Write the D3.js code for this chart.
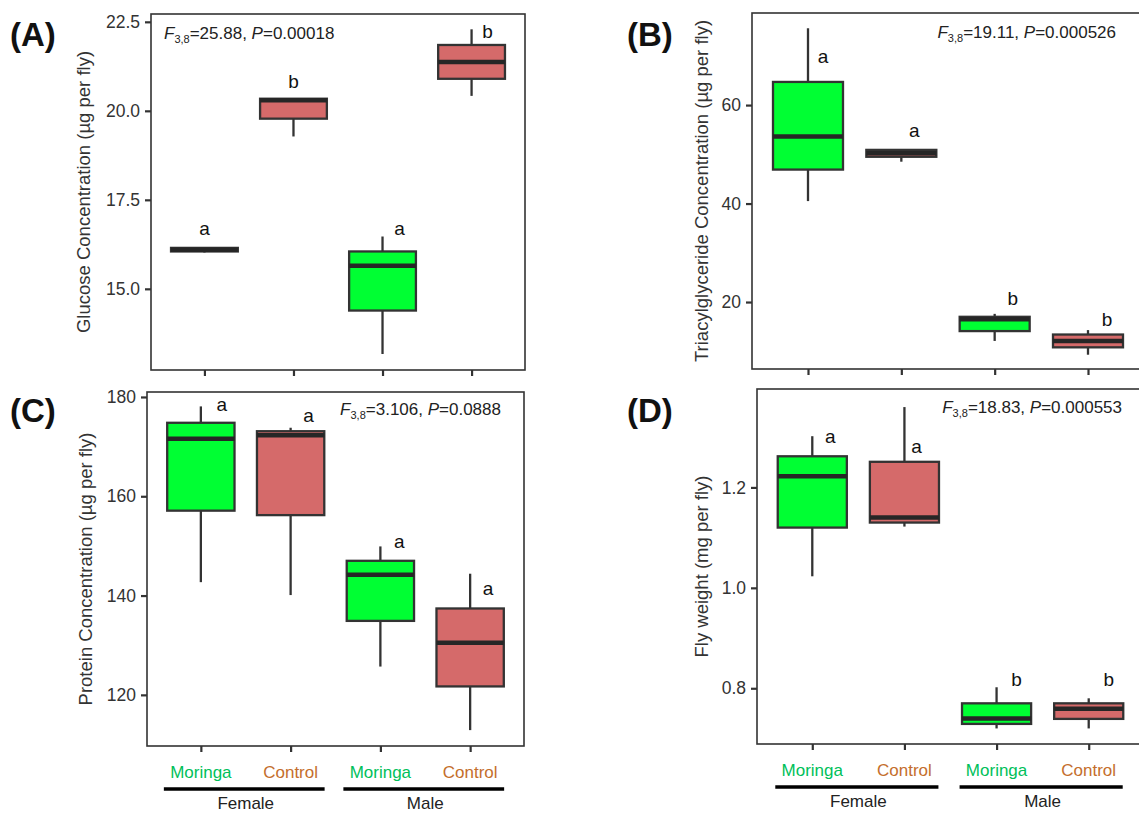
<!DOCTYPE html>
<html>
<head>
<meta charset="utf-8">
<script src="https://cdn.jsdelivr.net/npm/d3@7"></script>
<style>
  body { margin: 0; background: #fff; overflow: hidden; }
  svg { display: block; font-family: 'Liberation Sans', Arial, sans-serif; }
</style>
</head>
<body>
<svg id="chart" width="1139" height="814"></svg>
<script>
// categories
const groups = ['FM', 'FC', 'MM', 'MC'];
const treatments = ['Moringa', 'Control', 'Moringa', 'Control'];
const sexes = ['Female', 'Male'];

// box stats per group: [lower whisker, q1, median, q3, upper whisker]
const glucose = [[16.02, 16.05, 16.1, 16.15, 16.15], [19.28, 19.78, 20.3, 20.34, 20.34], [13.17, 14.39, 15.65, 16.05, 16.47], [20.42, 20.9, 21.37, 21.85, 22.29]];
const tag = [[40.5, 46.9, 53.6, 64.7, 75.6], [48.5, 49.5, 50.2, 50.9, 50.9], [12.1, 14.1, 16.5, 17.0, 17.6], [9.3, 10.8, 12.1, 13.4, 14.3]];
const protein = [[142.7, 157.1, 171.6, 174.8, 178.1], [140.1, 156.2, 172.3, 173.1, 173.8], [125.7, 134.9, 144.2, 147.0, 149.9], [112.9, 121.7, 130.5, 137.4, 144.4]];
const weight = [[1.023, 1.120, 1.222, 1.262, 1.302], [1.122, 1.130, 1.140, 1.251, 1.360], [0.720, 0.729, 0.740, 0.770, 0.802], [0.720, 0.739, 0.759, 0.770, 0.780]];

// significance letters and the value they sit at
const glucoseLetters = ['a', 'b', 'a', 'b'];
const glucoseLetterY = [16.52, 20.65, 16.52, 22.05];
const tagLetters = ['a', 'a', 'b', 'b'];
const tagLetterY = [68.5, 53.5, 19.4, 15.1];
const proteinLetters = ['a', 'a', 'a', 'a'];
const proteinLetterY = [177.1, 174.9, 149.6, 140.1];
const weightLetters = ['a', 'a', 'b', 'b'];
const weightLetterY = [1.288, 1.268, 0.805, 0.805];

// anova results
const fValues = ['25.88', '19.11', '3.106', '18.83'];
const pValues = ['0.00018', '0.000526', '0.0888', '0.000553'];

// axis ticks
const glucoseTicks = [15, 17.5, 20, 22.5];
const tagTicks = [20, 40, 60];
const proteinTicks = [120, 140, 160, 180];
const weightTicks = [0.8, 1.0, 1.2];

const fills = { Moringa: '#00ff33', Control: '#d56a6a' };
const labelColors = { Moringa: '#00bf5a', Control: '#c46e2c' };
const ink = '#333333';

const svg = d3.select('#chart');

const panels = [
  { stats: glucose, letters: glucoseLetters, letterY: glucoseLetterY, letterDx: [0, 0, 17, 16],
    ticks: glucoseTicks, fmt: '.1f', domain: [12.72, 22.72], f: fValues[0], p: pValues[0],
    title: 'Glucose Concentration (µg per fly)', tag: '(A)',
    x0: 151, x1: 525, y0: 14, y1: 370, tagX: 10, tagY: 46, titleX: 90,
    statX: 164, statY: 39, statAnchor: 'start', xLabels: false },
  { stats: tag, letters: tagLetters, letterY: tagLetterY, letterDx: [15, 13, 18, 19],
    ticks: tagTicks, fmt: 'd', domain: [6.4, 78.7], f: fValues[1], p: pValues[1],
    title: 'Triacylglyceride Concentration (µg per fly)', tag: '(B)',
    x0: 752, x1: 1144, y0: 13, y1: 369, tagX: 627, tagY: 46, titleX: 708,
    statX: 1116, statY: 38, statAnchor: 'end', xLabels: false },
  { stats: protein, letters: proteinLetters, letterY: proteinLetterY, letterDx: [21, 18, 19, 18],
    ticks: proteinTicks, fmt: 'd', domain: [109.7, 181], f: fValues[2], p: pValues[2],
    title: 'Protein Concentration (µg per fly)', tag: '(C)',
    x0: 147, x1: 524, y0: 392, y1: 746, tagX: 10, tagY: 422, titleX: 92,
    statX: 501, statY: 415, statAnchor: 'end', xLabels: true },
  { stats: weight, letters: weightLetters, letterY: weightLetterY, letterDx: [18, 12, 20, 20],
    ticks: weightTicks, fmt: '.1f', domain: [0.689, 1.396], f: fValues[3], p: pValues[3],
    title: 'Fly weight (mg per fly)', tag: '(D)',
    x0: 757, x1: 1144, y0: 389, y1: 744, tagX: 627, tagY: 422, titleX: 708,
    statX: 1122, statY: 413, statAnchor: 'end', xLabels: true }
];

panels.forEach(drawPanel);

function drawPanel(cfg) {
  const x = d3.scalePoint().domain(groups).range([cfg.x0, cfg.x1]).padding(0.6);
  const y = d3.scaleLinear().domain(cfg.domain).range([cfg.y1, cfg.y0]);
  const boxW = x.step() * 0.75;
  const g = svg.append('g');

  // y axis
  const ya = g.append('g')
    .attr('transform', `translate(${cfg.x0},0)`)
    .call(d3.axisLeft(y).tickValues(cfg.ticks).tickFormat(d3.format(cfg.fmt)).tickSize(6).tickPadding(5));
  // x axis ticks
  const xa = g.append('g')
    .attr('transform', `translate(0,${cfg.y1})`)
    .call(d3.axisBottom(x).tickSize(6).tickFormat(''));
  [ya, xa].forEach(a => {
    a.select('.domain').remove();
    a.selectAll('line').attr('stroke', ink).attr('stroke-width', 2.2);
    a.selectAll('text').attr('fill', ink).style('font-size', '17.5px').style('font-family', "'Liberation Sans', Arial, sans-serif");
  });

  // panel border
  g.append('rect')
    .attr('x', cfg.x0).attr('y', cfg.y0)
    .attr('width', cfg.x1 - cfg.x0).attr('height', cfg.y1 - cfg.y0)
    .attr('fill', 'none').attr('stroke', ink).attr('stroke-width', 1.6);

  // boxes
  const box = g.selectAll('.box').data(cfg.stats).enter().append('g').attr('class', 'box');
  box.append('line')
    .attr('x1', (d, i) => x(groups[i])).attr('x2', (d, i) => x(groups[i]))
    .attr('y1', d => y(d[4])).attr('y2', d => y(d[3]))
    .attr('stroke', ink).attr('stroke-width', 2.3);
  box.append('line')
    .attr('x1', (d, i) => x(groups[i])).attr('x2', (d, i) => x(groups[i]))
    .attr('y1', d => y(d[1])).attr('y2', d => y(d[0]))
    .attr('stroke', ink).attr('stroke-width', 2.3);
  box.append('rect')
    .attr('x', (d, i) => x(groups[i]) - boxW / 2)
    .attr('y', d => y(d[3]))
    .attr('width', boxW)
    .attr('height', d => Math.max(0.5, y(d[1]) - y(d[3])))
    .attr('fill', (d, i) => fills[treatments[i]])
    .attr('stroke', ink).attr('stroke-width', 2.3);
  box.append('line')
    .attr('x1', (d, i) => x(groups[i]) - boxW / 2).attr('x2', (d, i) => x(groups[i]) + boxW / 2)
    .attr('y1', d => y(d[2])).attr('y2', d => y(d[2]))
    .attr('stroke', '#262626').attr('stroke-width', 4.5);

  // letters
  g.selectAll('.letter').data(cfg.letters).enter().append('text')
    .attr('x', (d, i) => x(groups[i]) + cfg.letterDx[i])
    .attr('y', (d, i) => y(cfg.letterY[i]))
    .attr('text-anchor', 'middle')
    .style('font-size', '19px').attr('fill', '#111')
    .text(d => d);

  // stats
  const st = g.append('text')
    .attr('x', cfg.statX).attr('y', cfg.statY)
    .attr('text-anchor', cfg.statAnchor)
    .style('font-size', '17px').attr('fill', '#222');
  st.append('tspan').style('font-style', 'italic').text('F');
  st.append('tspan').attr('dy', 4).style('font-size', '11px').text('3,8');
  st.append('tspan').attr('dy', -4).text(`=${cfg.f}, `);
  st.append('tspan').style('font-style', 'italic').text('P');
  st.append('tspan').text(`=${cfg.p}`);

  // y title
  g.append('text')
    .attr('transform', `translate(${cfg.titleX},${(cfg.y0 + cfg.y1) / 2}) rotate(-90)`)
    .attr('text-anchor', 'middle')
    .style('font-size', '18.5px').attr('fill', ink)
    .text(cfg.title);

  // panel tag
  g.append('text')
    .attr('x', cfg.tagX).attr('y', cfg.tagY)
    .style('font-size', '33px').style('font-weight', 'bold').attr('fill', '#111')
    .text(cfg.tag);

  if (cfg.xLabels) {
    g.selectAll('.xlab').data(treatments).enter().append('text')
      .attr('x', (d, i) => x(groups[i]))
      .attr('y', cfg.y1 + 32)
      .attr('text-anchor', 'middle')
      .style('font-size', '17px')
      .attr('fill', d => labelColors[d])
      .text(d => d);
    sexes.forEach((s, k) => {
      const a = x(groups[k * 2]), b = x(groups[k * 2 + 1]);
      g.append('line')
        .attr('x1', a - 37).attr('x2', b + 34)
        .attr('y1', cfg.y1 + 43).attr('y2', cfg.y1 + 43)
        .attr('stroke', '#000').attr('stroke-width', 3.5);
      g.append('text')
        .attr('x', (a + b) / 2).attr('y', cfg.y1 + 63)
        .attr('text-anchor', 'middle')
        .style('font-size', '17px').attr('fill', '#222')
        .text(s);
    });
  }
}
</script>
</body>
</html>
